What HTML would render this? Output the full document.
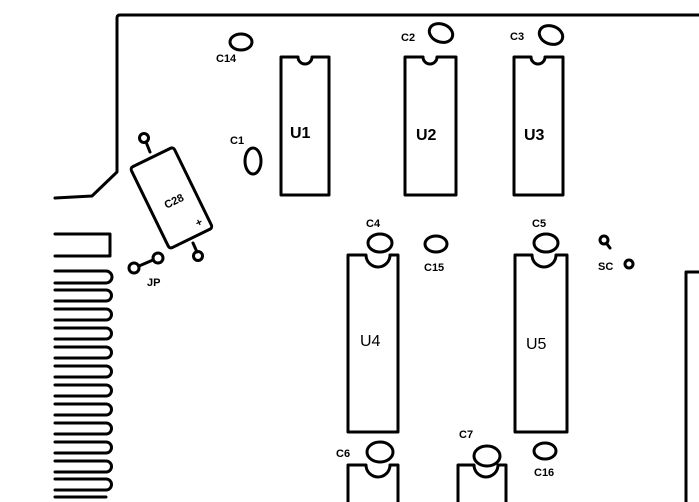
<!DOCTYPE html>
<html><head><style>html,body{margin:0;padding:0;background:#fff;}svg{display:block}</style></head>
<body>
<svg width="699" height="502" viewBox="0 0 699 502" xmlns="http://www.w3.org/2000/svg" font-family="Liberation Sans, sans-serif" font-weight="bold">
<g fill="none" stroke="#000" stroke-width="3" stroke-linejoin="round" stroke-linecap="round">
<path d="M699,15 L120,15 Q117,15 117,18 L117,172 L92,196 L55,198"/>
<path d="M55,234 L110,234 L110,256 L55,256"/>
<path d="M55,271 L106,271 A6,6 0 0 1 106,283 L55,283"/>
<path d="M55,290 L106,290 A5.5,5.5 0 0 1 106,301 L55,301"/>
<path d="M55,309 L106,309 A5.5,5.5 0 0 1 106,320 L55,320"/>
<path d="M55,328 L106,328 A5.5,5.5 0 0 1 106,339 L55,339"/>
<path d="M55,347 L106,347 A5.5,5.5 0 0 1 106,358 L55,358"/>
<path d="M55,366 L106,366 A5.5,5.5 0 0 1 106,377 L55,377"/>
<path d="M55,385 L106,385 A5.5,5.5 0 0 1 106,396 L55,396"/>
<path d="M55,404 L106,404 A5.5,5.5 0 0 1 106,415 L55,415"/>
<path d="M55,423 L106,423 A5.5,5.5 0 0 1 106,434 L55,434"/>
<path d="M55,442 L106,442 A5.5,5.5 0 0 1 106,453 L55,453"/>
<path d="M55,461 L106,461 A5.5,5.5 0 0 1 106,472 L55,472"/>
<path d="M55,479 L106,479 A5.5,5.5 0 0 1 106,490 L55,490"/>
<path d="M55,497 L106,497"/>
<path d="M281,57 L298,57 A7,7 0 0 0 312,57 L329,57 L329,195 L281,195 Z"/>
<path d="M405,57 L423,57 A7,7 0 0 0 437,57 L456,57 L456,195 L405,195 Z"/>
<path d="M514,57 L531,57 A7,7 0 0 0 545,57 L563,57 L563,195 L514,195 Z"/>
<path d="M348,255 L366,255 A7,7 0 0 0 390,255 L398,255 L398,432 L348,432 Z"/>
<path d="M515,255 L532,255 A7,7 0 0 0 556,255 L567,255 L567,432 L515,432 Z"/>
<path d="M348,502 L348,465 L366,465 A7,7 0 0 0 390,465 L398,465 L398,502"/>
<path d="M458,502 L458,465 L474,465 A7,7 0 0 0 498,465 L506,465 L506,502"/>
<path d="M699,272 L686,272 L686,502"/>
<ellipse cx="241" cy="42" rx="11" ry="8"/>
<ellipse cx="441" cy="33" rx="12" ry="9" transform="rotate(20 441 33)"/>
<ellipse cx="551" cy="35" rx="12" ry="9" transform="rotate(20 551 35)"/>
<ellipse cx="253" cy="161" rx="8" ry="13"/>
<ellipse cx="380" cy="243" rx="12" ry="9"/>
<ellipse cx="436" cy="244" rx="11" ry="8"/>
<ellipse cx="546" cy="243" rx="12" ry="9"/>
<ellipse cx="380" cy="452" rx="13" ry="10"/>
<ellipse cx="487" cy="456" rx="13" ry="10"/>
<ellipse cx="545" cy="451" rx="11" ry="8"/>
<g transform="rotate(-26 171 197)">
<rect x="147" y="153" width="48" height="90" rx="3"/>
</g>
<line x1="150" y1="152" x2="146" y2="142"/>
<circle cx="144" cy="138" r="4.5"/>
<line x1="193" y1="243" x2="197" y2="252"/>
<circle cx="198" cy="256" r="4.5"/>
<circle cx="134" cy="268" r="5"/>
<circle cx="158" cy="258" r="5"/>
<line x1="139" y1="266" x2="153" y2="260"/>
<circle cx="604" cy="240" r="4"/>
<line x1="607" y1="244" x2="610" y2="248"/>
<circle cx="629" cy="264" r="4"/>
</g>
<g fill="#000" font-size="16">
<text x="290" y="138">U1</text>
<text x="416" y="140">U2</text>
<text x="524" y="140">U3</text>
<text x="360" y="346" font-weight="normal">U4</text>
<text x="526" y="349" font-weight="normal">U5</text>
</g>
<g fill="#000" font-size="11">
<text x="216" y="62">C14</text>
<text x="401" y="41">C2</text>
<text x="510" y="40">C3</text>
<text x="230" y="144">C1</text>
<text x="366" y="227">C4</text>
<text x="424" y="271">C15</text>
<text x="532" y="227">C5</text>
<text x="336" y="457">C6</text>
<text x="459" y="438">C7</text>
<text x="534" y="476">C16</text>
<text x="147" y="286">JP</text>
<text x="598" y="270">SC</text>
<text x="163" y="206" transform="rotate(-26 171 200)">C28</text>
<text x="183" y="236" transform="rotate(-26 171 200)">+</text>
</g>
</svg>
</body></html>
